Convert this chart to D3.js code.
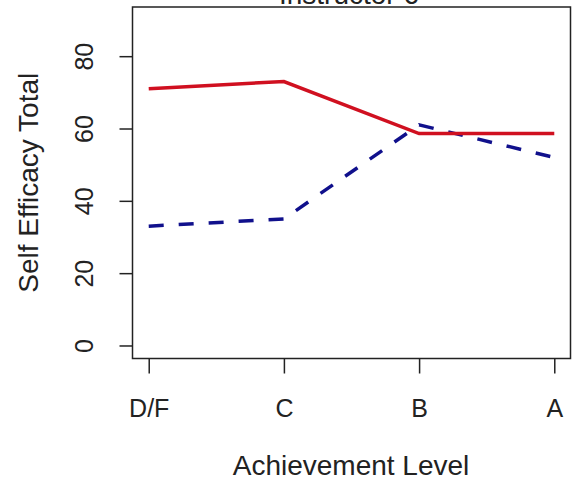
<!DOCTYPE html>
<html>
<head>
<meta charset="utf-8">
<script src="https://cdn.jsdelivr.net/npm/d3@7"></script>
<style>
  html, body { margin: 0; padding: 0; background: #fff; }
  svg { display: block; }
  text { font-family: "Liberation Sans", Arial, sans-serif; fill: #222; }
</style>
</head>
<body>
<svg id="chart" width="573" height="485"></svg>
<script>
// Achievement levels along the x axis
const categories = ["D/F", "C", "B", "A"];
// Self efficacy totals per achievement level
const seriesSolid = [71, 73, 58.6, 58.6];
const seriesDashed = [33, 35, 61, 52];
// Y tick labels
const yTicks = [0, 20, 40, 60, 80];
const title = "Instructor 6";

const svg = d3.select("#chart");
const box = { left: 132.5, right: 570.5, top: 7, bottom: 358.5 };

// Category positions 1..4 with the usual 4% padding on either side
const x = d3.scaleLinear().domain([0.88, 4.12]).range([box.left, box.right]);
// Y limits 0..90 with 4% padding
const y = d3.scaleLinear().domain([-3.6, 93.6]).range([box.bottom, box.top]);

// Plot frame
svg.append("rect")
  .attr("x", box.left).attr("y", box.top)
  .attr("width", box.right - box.left).attr("height", box.bottom - box.top)
  .attr("fill", "none").attr("stroke", "#222").attr("stroke-width", 1.5);

// Title (partly above the window)
svg.append("text")
  .attr("x", 349).attr("y", 4)
  .attr("text-anchor", "middle")
  .attr("font-size", 28)
  .text(title);

// X axis
const xAxis = svg.append("g")
  .attr("transform", `translate(0,${box.bottom})`)
  .call(d3.axisBottom(x)
    .tickValues(categories.map((d, i) => i + 1))
    .tickFormat((d) => categories[d - 1])
    .tickSize(15)
    .tickSizeOuter(0));
xAxis.select(".domain").remove();
xAxis.selectAll(".tick line").attr("stroke", "#222").attr("stroke-width", 1.5);
xAxis.selectAll(".tick text")
  .attr("y", 0).attr("dy", 0)
  .attr("transform", "translate(0,58)")
  .attr("font-size", 25)
  .attr("font-family", "Liberation Sans, Arial, sans-serif")
  .attr("fill", "#222");

// Y axis
const yAxis = svg.append("g")
  .attr("transform", `translate(${box.left},0)`)
  .call(d3.axisLeft(y).tickValues(yTicks).tickSize(13).tickSizeOuter(0));
yAxis.select(".domain").remove();
yAxis.selectAll(".tick line").attr("stroke", "#222").attr("stroke-width", 1.5);
yAxis.selectAll(".tick text")
  .attr("x", 0).attr("dy", 0)
  .attr("text-anchor", "middle")
  .attr("transform", "translate(-40,0) rotate(-90)")
  .attr("font-size", 25)
  .attr("font-family", "Liberation Sans, Arial, sans-serif")
  .attr("fill", "#222");

// Axis titles
svg.append("text")
  .attr("x", 351).attr("y", 475)
  .attr("text-anchor", "middle")
  .attr("font-size", 28)
  .text("Achievement Level");

svg.append("text")
  .attr("transform", `translate(38,${(box.top + box.bottom) / 2}) rotate(-90)`)
  .attr("text-anchor", "middle")
  .attr("font-size", 28)
  .text("Self Efficacy Total");

// Lines
const line = d3.line().x((d, i) => x(i + 1)).y((d) => y(d));

svg.append("path")
  .datum(seriesDashed)
  .attr("d", line)
  .attr("fill", "none")
  .attr("stroke", "#10108c")
  .attr("stroke-width", 3.5)
  .attr("stroke-dasharray", "15,15");

svg.append("path")
  .datum(seriesSolid)
  .attr("d", line)
  .attr("fill", "none")
  .attr("stroke", "#d01020")
  .attr("stroke-width", 3.5);
</script>
</body>
</html>
